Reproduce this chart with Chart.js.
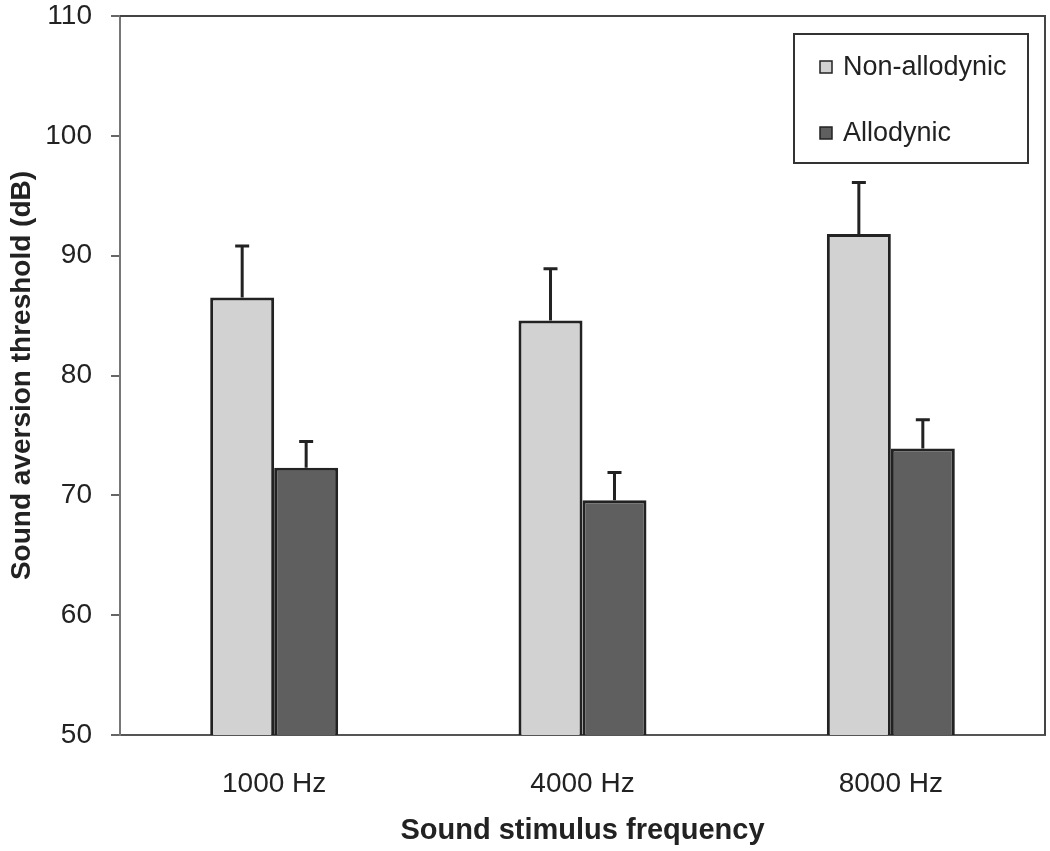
<!DOCTYPE html>
<html>
<head>
<meta charset="utf-8">
<script src="https://cdn.jsdelivr.net/npm/chart.js@4.4.1/dist/chart.umd.min.js"></script>
<style>
  html, body { margin: 0; padding: 0; background: #fff; }
  #wrap { width: 1050px; height: 851px; }
</style>
</head>
<body>
<div id="wrap"><canvas id="chart"></canvas></div>
<script>
/* DATA */
const categories = ["1000 Hz", "4000 Hz", "8000 Hz"];
const nonAllodynic = [86.5, 84.6, 91.8];
const nonAllodynicErr = [4.3, 4.3, 4.3];
const allodynic = [72.3, 69.6, 73.9];
const allodynicErr = [2.2, 2.3, 2.4];
const yTicks = [50, 60, 70, 80, 90, 100, 110];

const FONT = "'Liberation Sans', Arial, sans-serif";
const INK = "#222";

/* error bars: drawn on top of each bar */
const errorBars = {
  id: "errorBars",
  afterDatasetsDraw(chart) {
    const ctx = chart.ctx;
    const y = chart.scales.y;
    ctx.save();
    ctx.strokeStyle = INK;
    ctx.lineWidth = 3;
    chart.data.datasets.forEach((ds, i) => {
      const meta = chart.getDatasetMeta(i);
      meta.data.forEach((bar, j) => {
        const top = y.getPixelForValue(ds.data[j] + ds.errors[j]);
        ctx.beginPath();
        ctx.moveTo(bar.x, bar.y);
        ctx.lineTo(bar.x, top);
        ctx.moveTo(bar.x - 7, top);
        ctx.lineTo(bar.x + 7, top);
        ctx.stroke();
      });
    });
    ctx.restore();
  }
};

/* frame round the plot area + boxed legend */
const frameAndLegend = {
  id: "frameAndLegend",
  afterDraw(chart) {
    const ctx = chart.ctx;
    const a = chart.chartArea;
    ctx.save();
    ctx.strokeStyle = "#444";
    ctx.lineWidth = 2;
    ctx.beginPath();
    ctx.moveTo(a.left, a.top);
    ctx.lineTo(a.right, a.top);
    ctx.lineTo(a.right, a.bottom);
    ctx.stroke();

    // legend box
    const bx = 794, by = 34, bw = 234, bh = 129;
    ctx.fillStyle = "#fff";
    ctx.fillRect(bx, by, bw, bh);
    ctx.strokeStyle = "#333";
    ctx.strokeRect(bx, by, bw, bh);

    const rows = [67, 133];
    ctx.font = "27px " + FONT;
    ctx.textBaseline = "middle";
    chart.data.datasets.forEach((ds, i) => {
      const cy = rows[i];
      ctx.fillStyle = ds.backgroundColor;
      ctx.fillRect(820, cy - 6, 12, 12);
      ctx.lineWidth = 1.5;
      ctx.strokeStyle = INK;
      ctx.strokeRect(820, cy - 6, 12, 12);
      ctx.fillStyle = INK;
      ctx.fillText(ds.label, 843, cy + 1);
    });
    ctx.restore();
  }
};

new Chart(document.getElementById("chart"), {
  type: "bar",
  data: {
    labels: categories,
    datasets: [
      {
        label: "Non-allodynic",
        data: nonAllodynic,
        errors: nonAllodynicErr,
        backgroundColor: "#d2d2d2",
        borderColor: INK,
        borderWidth: 3,
        borderSkipped: false
      },
      {
        label: "Allodynic",
        data: allodynic,
        errors: allodynicErr,
        backgroundColor: "#5f5f5f",
        borderColor: INK,
        borderWidth: 3,
        borderSkipped: false
      }
    ]
  },
  options: {
    responsive: true,
    maintainAspectRatio: false,
    animation: false,
    layout: { padding: { top: 16, right: 5, left: 0, bottom: 0 } },
    datasets: { bar: { categoryPercentage: 0.415, barPercentage: 1.0 } },
    plugins: {
      legend: { display: false },
      tooltip: { enabled: false }
    },
    scales: {
      x: {
        grid: { display: false },
        border: { display: true, color: "#555", width: 2 },
        ticks: { color: INK, font: { family: FONT, size: 28 }, padding: 24 },
        title: {
          display: true,
          text: "Sound stimulus frequency",
          color: INK,
          font: { family: FONT, size: 29, weight: "bold" },
          padding: { top: 0, bottom: 3 }
        },
        afterFit(s) {
          s.height = 116;
          s.paddingLeft = 0;
          s.paddingRight = 0;
        }
      },
      y: {
        min: 50,
        max: 110,
        afterBuildTicks(s) { s.ticks = yTicks.map(v => ({ value: v })); },
        grid: { drawOnChartArea: false, drawTicks: true, tickLength: 9, color: "#666", lineWidth: 2 },
        border: { display: true, color: "#777", width: 2 },
        ticks: { color: INK, font: { family: FONT, size: 28 }, padding: 19 },
        title: {
          display: true,
          text: "Sound aversion threshold (dB)",
          color: INK,
          font: { family: FONT, size: 28, weight: "bold" },
          padding: { top: 5, bottom: 0 }
        },
        afterFit(s) {
          s.width = 120;
          s.paddingTop = 0;
          s.paddingBottom = 0;
        }
      }
    }
  },
  plugins: [errorBars, frameAndLegend]
});
</script>
</body>
</html>
